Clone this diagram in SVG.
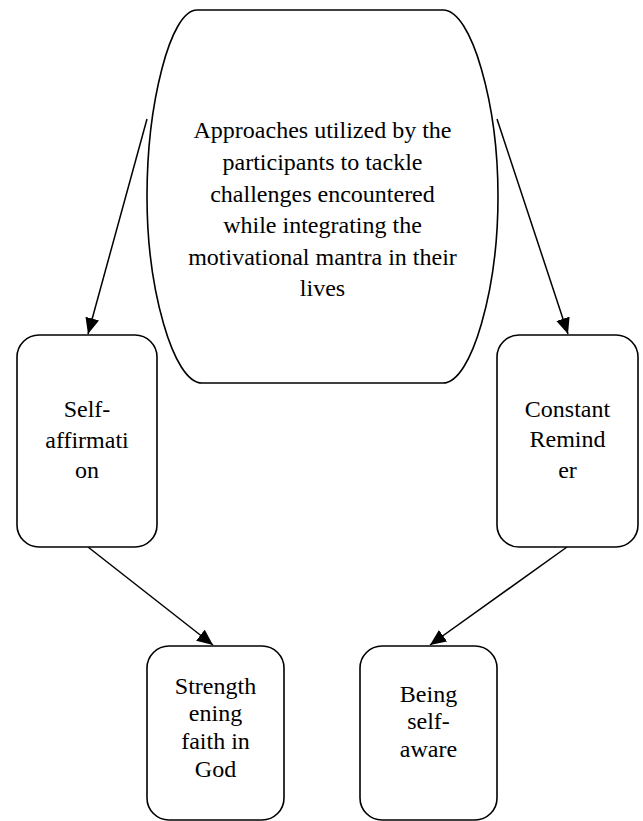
<svg xmlns="http://www.w3.org/2000/svg" width="643" height="821" viewBox="0 0 643 821">
<defs>
<marker id="arr" markerUnits="userSpaceOnUse" markerWidth="17" markerHeight="15" refX="16" refY="7.5" orient="auto">
<path d="M0,0.5 L16,7.5 L0,14.5 Z" fill="#000"/>
</marker>
<style>
.s{fill:#fff;stroke:#000;stroke-width:1.6}
.c{fill:none;stroke:#000;stroke-width:1.5}
.t{font-family:'Liberation Serif','Times New Roman',serif;font-size:24px;text-anchor:middle;fill:#000}
</style>
</defs>
<rect width="643" height="821" fill="#fff"/>
<g id="connectors">
<line class="c" x1="147" y1="119" x2="88" y2="334" marker-end="url(#arr)"/>
<line class="c" x1="497" y1="119" x2="568" y2="334" marker-end="url(#arr)"/>
<line class="c" x1="88" y1="547" x2="213" y2="645" marker-end="url(#arr)"/>
<line class="c" x1="567" y1="547" x2="430" y2="645" marker-end="url(#arr)"/>
</g>
<g id="center" class="t">
<path class="s" d="M197,10 L443,10 C472,10 498,105 498,196.5 C498,288 472,383 443,383 L202,383 C173,383 147,288 147,196.5 C147,105 170,10 197,10 Z"/>
<text x="322.5" y="138">Approaches utilized by the</text>
<text x="322.5" y="170">participants to tackle</text>
<text x="322.5" y="201.5">challenges encountered</text>
<text x="322.5" y="233">while integrating the</text>
<text x="322.5" y="264.5">motivational mantra in their</text>
<text x="322.5" y="296">lives</text>
</g>
<g id="self-affirmation" class="t">
<rect class="s" x="17" y="335" width="140" height="212" rx="22"/>
<text x="87" y="417">Self-</text>
<text x="87" y="448">affirmati</text>
<text x="87" y="478">on</text>
</g>
<g id="constant-reminder" class="t">
<rect class="s" x="497" y="335" width="141" height="212" rx="22"/>
<text x="567.5" y="417">Constant</text>
<text x="567.5" y="447">Remind</text>
<text x="567.5" y="478">er</text>
</g>
<g id="strengthening" class="t">
<rect class="s" x="147" y="646" width="137" height="174" rx="22"/>
<text x="215.5" y="694">Strength</text>
<text x="215.5" y="721">ening</text>
<text x="215.5" y="749">faith in</text>
<text x="215.5" y="777">God</text>
</g>
<g id="self-aware" class="t">
<rect class="s" x="360" y="646" width="137" height="174" rx="22"/>
<text x="428.5" y="702">Being</text>
<text x="428.5" y="729">self-</text>
<text x="428.5" y="757">aware</text>
</g>
</svg>
